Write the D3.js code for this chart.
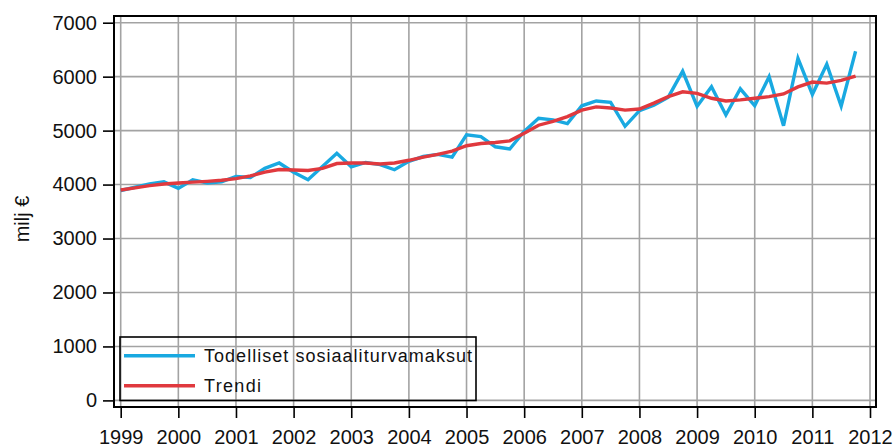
<!DOCTYPE html>
<html>
<head>
<meta charset="utf-8">
<script src="https://cdn.jsdelivr.net/npm/d3@7"></script>
<style>
  body { margin: 0; background: #fff; }
  svg { display: block; font-family: "Liberation Sans", Arial, sans-serif; }
</style>
</head>
<body>
<div id="chart"></div>
<script>
// quarterly series 1999Q1 .. 2011Q4
const years = [1999, 2000, 2001, 2002, 2003, 2004, 2005, 2006, 2007, 2008, 2009, 2010, 2011];
const quarters = [1, 2, 3, 4];

const actual = [
  3890, 3950, 4010, 4050,
  3930, 4090, 4030, 4050,
  4150, 4130, 4300, 4400,
  4230, 4090, 4335, 4580,
  4330, 4410, 4370, 4275,
  4430, 4520, 4560, 4510,
  4920, 4890, 4700, 4660,
  4985, 5230, 5200, 5130,
  5460, 5550, 5525, 5080,
  5370, 5470, 5620, 6100,
  5450, 5815, 5290, 5775,
  5460, 6000, 5090, 6340,
  5670, 6230, 5455, 6470
];

const trend = [
  3900, 3940, 3980, 4010,
  4030, 4045, 4060, 4080,
  4110, 4160, 4230, 4280,
  4270, 4260, 4300, 4390,
  4400, 4400, 4380, 4400,
  4450, 4510, 4560, 4620,
  4720, 4760, 4780, 4810,
  4950, 5100, 5170, 5260,
  5380, 5440, 5420, 5380,
  5400, 5510, 5630, 5720,
  5690, 5600, 5550, 5570,
  5600, 5630, 5680, 5810,
  5900, 5880, 5930, 6010
];

const yTicks = [0, 1000, 2000, 3000, 4000, 5000, 6000, 7000];
const xTicks = [1999, 2000, 2001, 2002, 2003, 2004, 2005, 2006, 2007, 2008, 2009, 2010, 2011, 2012];
const seriesNames = ["Todelliset sosiaaliturvamaksut", "Trendi"];
const colors = ["#19a9e1", "#e0393e"];

// build time points from year + quarter
const periods = [];
years.forEach((yr) => quarters.forEach((q) => periods.push(yr + (q - 1) / 4)));
const series = [actual, trend].map((vals, k) => ({
  name: seriesNames[k],
  color: colors[k],
  points: vals.map((v, i) => ({ t: periods[i], v: v })),
}));

const W = 895, H = 448;
const frame = { left: 114, top: 16, right: 876, bottom: 407 };

const svg = d3.select("#chart").append("svg")
  .attr("width", W).attr("height", H);

const x = d3.scaleLinear().domain([1999, 2012]).range([120.7, 870]);
const y = d3.scaleLinear().domain([0, 7000]).range([400.4, 22.7]);

// grid
const grid = svg.append("g").attr("stroke", "#a3a3a3").attr("stroke-width", 1.6);
grid.selectAll("line.h").data(yTicks).join("line")
  .attr("x1", frame.left).attr("x2", frame.right)
  .attr("y1", (d) => y(d)).attr("y2", (d) => y(d));
grid.selectAll("line.v").data(xTicks).join("line")
  .attr("y1", frame.top).attr("y2", frame.bottom)
  .attr("x1", (d) => x(d)).attr("x2", (d) => x(d));

// frame
svg.append("rect")
  .attr("x", frame.left).attr("y", frame.top)
  .attr("width", frame.right - frame.left).attr("height", frame.bottom - frame.top)
  .attr("fill", "none").attr("stroke", "#000").attr("stroke-width", 2);

// y axis
const yAxis = svg.append("g").attr("transform", `translate(${frame.left},0)`)
  .call(d3.axisLeft(y).tickValues(yTicks).tickSize(11).tickPadding(6).tickFormat(d3.format("d")));
yAxis.select(".domain").remove();
yAxis.selectAll(".tick line").attr("stroke", "#000").attr("stroke-width", 1.6);
yAxis.selectAll(".tick text").attr("font-size", 20).attr("fill", "#111")
  .attr("font-family", "Liberation Sans, Arial, sans-serif");

// x axis
const xAxis = svg.append("g").attr("transform", `translate(0,${frame.bottom})`)
  .call(d3.axisBottom(x).tickValues(xTicks).tickSize(11).tickPadding(12).tickFormat(d3.format("d")));
xAxis.select(".domain").remove();
xAxis.selectAll(".tick line").attr("stroke", "#000").attr("stroke-width", 1.6);
xAxis.selectAll(".tick text").attr("font-size", 20).attr("fill", "#111")
  .attr("font-family", "Liberation Sans, Arial, sans-serif");

// y title
svg.append("text")
  .attr("transform", "translate(29,219) rotate(-90)")
  .attr("text-anchor", "middle")
  .attr("font-size", 20).attr("fill", "#111")
  .text("milj €");

// lines
const line = d3.line().x((d) => x(d.t)).y((d) => y(d.v));
svg.append("g").selectAll("path").data(series).join("path")
  .attr("d", (d) => line(d.points))
  .attr("fill", "none")
  .attr("stroke", (d) => d.color)
  .attr("stroke-width", 3.4)
  .attr("stroke-linejoin", "miter");

// legend (no fill, gridlines show through)
const legend = svg.append("g");
legend.append("rect")
  .attr("x", 120).attr("y", 337).attr("width", 356).attr("height", 63.5)
  .attr("fill", "none").attr("stroke", "#000").attr("stroke-width", 1.6);
const lg = legend.selectAll("g.item").data(series).join("g")
  .attr("transform", (d, i) => `translate(0,${355.7 + i * 30})`);
lg.append("line")
  .attr("x1", 124).attr("x2", 195)
  .attr("stroke", (d) => d.color).attr("stroke-width", 3.5);
lg.append("text")
  .attr("x", 204).attr("y", 6.5)
  .attr("font-size", 18).attr("fill", "#111")
  .attr("textLength", (d, i) => (i === 0 ? 268 : 57))
  .attr("lengthAdjust", "spacing")
  .text((d) => d.name);
</script>
</body>
</html>
